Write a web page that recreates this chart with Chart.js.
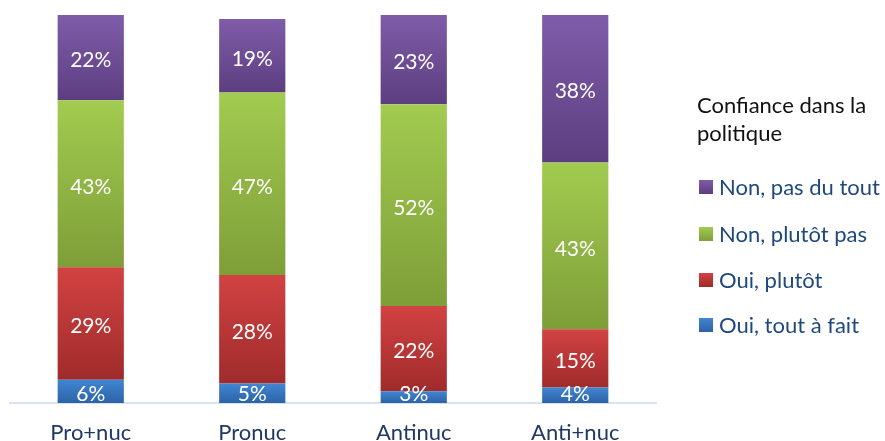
<!DOCTYPE html>
<html>
<head>
<meta charset="utf-8">
<script src="https://cdn.jsdelivr.net/npm/chart.js@4"></script>
<style>
  html, body { margin: 0; padding: 0; background: #fff; }
  #wrap { width: 885px; height: 441px; }
</style>
</head>
<body>
<div id="wrap"><canvas id="myChart" width="885" height="441"></canvas></div>
<script>
// Données
const groupes = ['Pro+nuc', 'Pronuc', 'Antinuc', 'Anti+nuc'];
const ouiToutAFait = [6, 5, 3, 4];
const ouiPlutot = [29, 28, 22, 15];
const nonPlutotPas = [43, 47, 52, 43];
const nonPasDuTout = [22, 19, 23, 38];
const titreLegende = ['Confiance dans la', 'politique'];

const FONT = 'Lato, "Open Sans", sans-serif';

// couleurs haut / bas du dégradé de chaque série
const teintes = {
  'Oui, tout à fait': ['#4185d3', '#2d63a6'],
  'Oui, plutôt': ['#d24242', '#a02b2b'],
  'Non, plutôt pas': ['#a2cb50', '#7e9e38'],
  'Non, pas du tout': ['#7f5ca9', '#5c3e80']
};

const series = [
  { label: 'Oui, tout à fait', data: ouiToutAFait },
  { label: 'Oui, plutôt', data: ouiPlutot },
  { label: 'Non, plutôt pas', data: nonPlutotPas },
  { label: 'Non, pas du tout', data: nonPasDuTout }
];

// dégradé vertical calculé sur le segment de la barre
function degrade(context) {
  const chart = context.chart;
  const [c1, c2] = teintes[context.dataset.label];
  if (!chart.chartArea || context.dataIndex === undefined) return c1;
  const y = chart.scales.y;
  let bas = 0;
  for (let d = 0; d < context.datasetIndex; d++) bas += series[d].data[context.dataIndex];
  const haut = bas + context.dataset.data[context.dataIndex];
  const g = chart.ctx.createLinearGradient(0, y.getPixelForValue(haut), 0, y.getPixelForValue(bas));
  g.addColorStop(0, c1);
  g.addColorStop(1, c2);
  return g;
}

// étiquettes de valeur au centre des segments
const etiquettes = {
  id: 'etiquettes',
  afterDatasetsDraw(chart) {
    const ctx = chart.ctx;
    ctx.save();
    ctx.font = '21px ' + FONT;
    ctx.fillStyle = '#ffffff';
    ctx.textAlign = 'center';
    ctx.textBaseline = 'middle';
    chart.data.datasets.forEach((ds, i) => {
      chart.getDatasetMeta(i).data.forEach((bar, j) => {
        let yc = (bar.y + bar.base) / 2 + 3;
        if (ds.data[j] < 8) yc = bar.base - 9;
        ctx.fillText(ds.data[j] + '%', bar.x, yc);
      });
    });
    ctx.restore();
  }
};

// légende dessinée à droite
const legende = {
  id: 'legende',
  afterDraw(chart) {
    const ctx = chart.ctx;
    ctx.save();
    ctx.font = '22px ' + FONT;
    ctx.textBaseline = 'middle';
    ctx.fillStyle = '#111111';
    titreLegende.forEach((t, k) => ctx.fillText(t, 697, 106 + k * 28));
    const ys = [187, 234, 280, 325];
    const ordre = [3, 2, 1, 0];
    ordre.forEach((d, k) => {
      const [c1, c2] = teintes[series[d].label];
      const g = ctx.createLinearGradient(0, ys[k] - 7, 0, ys[k] + 7);
      g.addColorStop(0, c1);
      g.addColorStop(1, c2);
      ctx.fillStyle = g;
      ctx.fillRect(699, ys[k] - 7, 14, 14);
      ctx.fillStyle = '#1f497d';
      ctx.fillText(series[d].label, 719, ys[k] + 1);
    });
    ctx.restore();
  }
};

const ctx = document.getElementById('myChart').getContext('2d');
const myChart = new Chart(ctx, {
  type: 'bar',
  data: {
    labels: groupes,
    datasets: series.map(s => ({
      label: s.label,
      data: s.data,
      backgroundColor: degrade,
      borderWidth: 0,
      barPercentage: 0.41,
      categoryPercentage: 1
    }))
  },
  options: {
    responsive: false,
    animation: false,
    layout: { padding: { top: 15, left: 10, right: 229, bottom: 0 } },
    scales: {
      x: {
        stacked: true,
        grid: { display: false },
        border: { display: true, color: '#d9e2f0', width: 2 },
        ticks: { color: '#1f3864', font: { family: FONT, size: 22 }, padding: 9 },
        afterFit(axis) { axis.height = 38; }
      },
      y: {
        stacked: true,
        display: false,
        min: 0,
        max: 100
      }
    },
    plugins: {
      legend: { display: false },
      tooltip: { enabled: false }
    }
  },
  plugins: [etiquettes, legende]
});
</script>
</body>
</html>
